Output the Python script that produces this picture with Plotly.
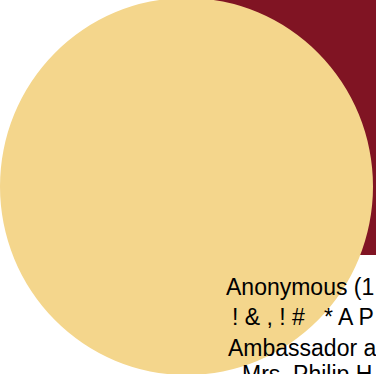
import plotly.graph_objects as go

# Data
rect_bounds = [186, -10, 400, 255]         # x0, y0, x1, y1 of the dark block
circle_bounds = [0, -2, 373, 375]          # x0, y0, x1, y1 of the large disc
label_texts = ["Anonymous (1",
               "! & , ! #\u00a0\u00a0\u00a0* A P",
               "Ambassador a",
               "Mrs. Philip H"]
label_x = [224, 230, 226, 240]
label_y = [287, 317, 348, 374]

RED = "#801423"
YELLOW = "#F4D68C"

fig = go.Figure()
fig.add_trace(go.Scatter(x=[0, 376], y=[0, 374], mode="markers",
                         marker=dict(opacity=0), hoverinfo="skip", showlegend=False))

fig.add_shape(type="rect", xref="x", yref="y",
              x0=rect_bounds[0], y0=rect_bounds[1], x1=rect_bounds[2], y1=rect_bounds[3],
              fillcolor=RED, line=dict(width=0), layer="below")
fig.add_shape(type="circle", xref="x", yref="y",
              x0=circle_bounds[0], y0=circle_bounds[1], x1=circle_bounds[2], y1=circle_bounds[3],
              fillcolor=YELLOW, line=dict(width=0), layer="below")

for t, x, y in zip(label_texts, label_x, label_y):
    fig.add_annotation(x=x, y=y, xref="x", yref="y", text=t, showarrow=False,
                       xanchor="left", yanchor="middle",
                       font=dict(family="Liberation Sans, Arial", size=23, color="#000000"))

fig.update_xaxes(range=[0, 376], visible=False, fixedrange=True)
fig.update_yaxes(range=[374, 0], visible=False, fixedrange=True)
fig.update_layout(width=376, height=374, margin=dict(l=0, r=0, t=0, b=0),
                  plot_bgcolor="white", paper_bgcolor="white", showlegend=False)

fig.write_html("out.html", config={"displayModeBar": False},
               post_script="document.body.style.margin='0';document.body.style.overflow='hidden';")
